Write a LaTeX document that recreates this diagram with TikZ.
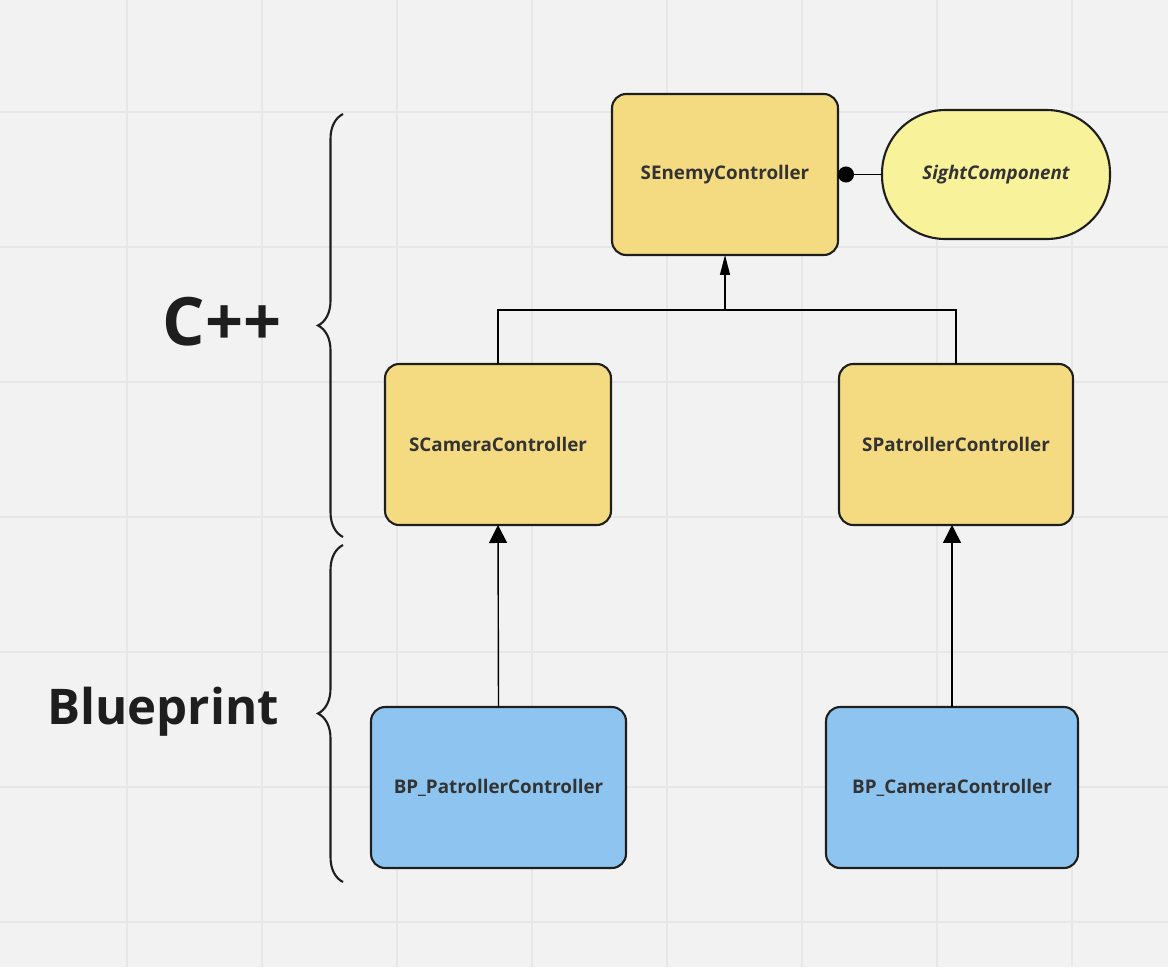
\documentclass[tikz,border=0pt]{standalone}
\usepackage{fontspec}
\setmainfont{Open Sans}
\usetikzlibrary{arrows.meta, decorations.pathreplacing}

\definecolor{boardbg}{HTML}{F2F2F2}
\definecolor{gridcol}{HTML}{E7E7E7}
\definecolor{cppyellow}{HTML}{F4DA80}
\definecolor{compyellow}{HTML}{F8F29A}
\definecolor{bpblue}{HTML}{8EC5F0}
\definecolor{inktext}{HTML}{333333}
\definecolor{inkline}{HTML}{1E1E1E}

\tikzset{
  classbox/.style={rectangle, rounded corners=8pt, draw=inkline, line width=1.2pt,
    fill=cppyellow, text=inktext, font=\bfseries\fontsize{10.7}{12}\selectfont,
    inner sep=0pt, outer sep=0pt},
  bpbox/.style={classbox, fill=bpblue},
  compbox/.style={rectangle, rounded corners=36pt, draw=inkline, line width=1.2pt,
    fill=compyellow, text=inktext, font=\bfseries\itshape\fontsize{10.7}{12}\selectfont,
    inner sep=0pt, outer sep=0pt},
  inherit/.style={draw=black, line width=0.8pt},
  layerbrace/.style={draw=inkline, line width=1.2pt,
    decorate, decoration={brace, amplitude=0.5cm}},
  layertext/.style={text=inkline, font=\bfseries\fontsize{38}{40}\selectfont}
}

\begin{document}
\begin{tikzpicture}[x=0.02cm, y=-0.02cm]
    % Board and grid
    \fill[boardbg] (0,0) rectangle (1168,967);
    \useasboundingbox (0,0) rectangle (1168,967);
    \foreach \gx in {127,262,...,1072}
        \draw[gridcol, line width=0.6pt] (\gx,0) -- (\gx,967);
    \foreach \gy in {112,247,...,922}
        \draw[gridcol, line width=0.6pt] (0,\gy) -- (1168,\gy);

    % C++ classes
    \node[classbox, minimum width=4.52cm, minimum height=3.22cm] (enemy) at (725,174.5) {SEnemyController};
    \node[compbox, minimum width=4.56cm, minimum height=2.58cm] (sight) at (996,174.5) {SightComponent};
    \node[classbox, minimum width=4.52cm, minimum height=3.22cm] (camera) at (498,444.5) {SCameraController};
    \node[classbox, minimum width=4.68cm, minimum height=3.22cm] (patroller) at (956,444.5) {SPatrollerController};

    % Blueprint classes
    \node[bpbox, minimum width=5.10cm, minimum height=3.22cm] (bppatroller) at (498.5,787.5) {BP\_PatrollerController};
    \node[bpbox, minimum width=5.04cm, minimum height=3.22cm] (bpcamera) at (952,787.5) {BP\_CameraController};

    % Component link
    \draw[inherit, {Circle[length=0.32cm]}-] (enemy.east) -- (sight.west);

    % Inheritance
    \coordinate (join) at (725,310);
    \draw[inherit] (camera.north) |- (join) -| (patroller.north);
    \draw[inherit, -{Triangle[width=0.2cm, length=0.4cm]}] (join) -- (enemy.south);
    \draw[inherit, -{Triangle[width=0.36cm, length=0.36cm]}] (bppatroller.north) -- (camera.south);
    \draw[inherit, -{Triangle[width=0.36cm, length=0.36cm]}] (bpcamera.north -| 952,0) -- (patroller.south -| 952,0);

    % Layer braces
    \draw[layerbrace] (343,537) -- (343,114);
    \draw[layerbrace] (343,882) -- (343,545);
    \node[layertext] (cpplabel) at (222,322) {C++};
    \node[layertext, font=\bfseries\fontsize{28}{30}\selectfont] (bplabel) at (163,712) {Blueprint};
\end{tikzpicture}
\end{document}
